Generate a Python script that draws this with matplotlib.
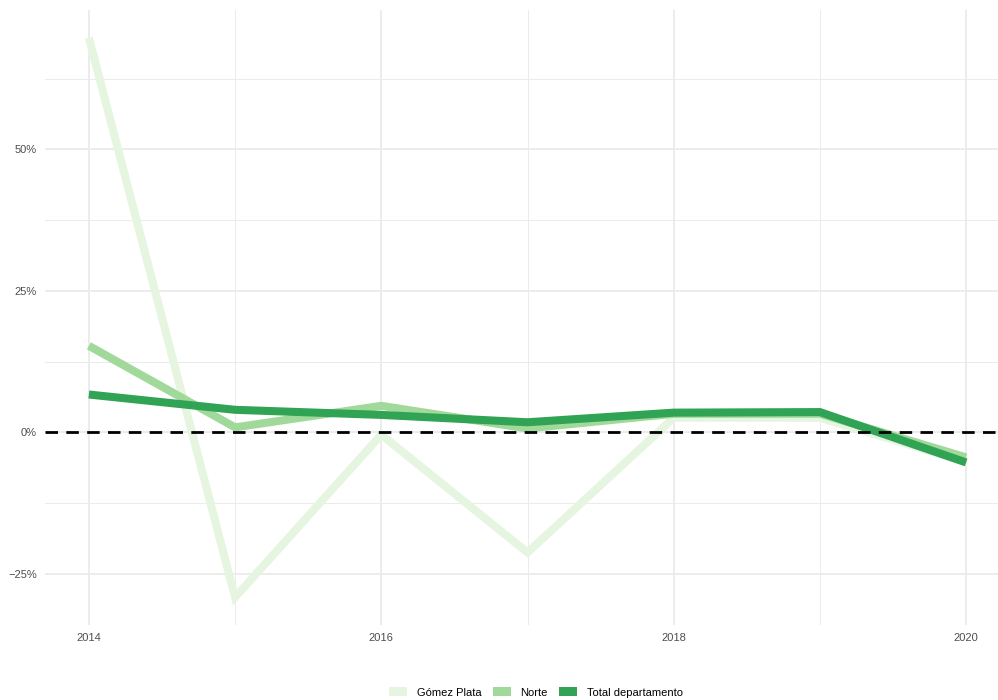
import matplotlib
matplotlib.use("Agg")
import matplotlib.pyplot as plt
from matplotlib.patches import Patch
from matplotlib.ticker import FixedLocator, FuncFormatter

years = [2014, 2015, 2016, 2017, 2018, 2019, 2020]
gomez_plata = [69.7, -29.1, -0.4, -21.2, 2.6, 2.6, -5.2]
norte = [15.3, 0.9, 4.7, 0.7, 3.3, 3.3, -4.4]
total_depto = [6.7, 4.0, 3.1, 1.8, 3.5, 3.6, -5.3]

series_names = ["Gómez Plata", "Norte", "Total departamento"]
series_colors = ["#e5f5e0", "#a1d99b", "#31a354"]

x_major = [2014, 2016, 2018, 2020]
x_minor = [2015, 2017, 2019]
y_major = [-25, 0, 25, 50]
y_minor = [-12.5, 12.5, 37.5, 62.5]

plt.rcParams['font.family'] = ['Liberation Sans', 'DejaVu Sans']

fig = plt.figure(figsize=(9.98, 7.0), dpi=100)
ax = fig.add_axes([45/998, 75/700, (1010-45)/998, 615/700])

for name, vals, col in zip(series_names, [gomez_plata, norte, total_depto], series_colors):
    ax.plot(years, vals, color=col, lw=5.8, solid_capstyle='butt', solid_joinstyle='miter', zorder=3)

ax.axhline(0, color='black', lw=2.0, dashes=(4.5, 3.0), zorder=4)

ax.set_xlim(2013.7, 2020.3)
ax.set_ylim(-34.0, 74.6)

ax.xaxis.set_major_locator(FixedLocator(x_major))
ax.xaxis.set_minor_locator(FixedLocator(x_minor))
ax.yaxis.set_major_locator(FixedLocator(y_major))
ax.yaxis.set_minor_locator(FixedLocator(y_minor))
ax.yaxis.set_major_formatter(FuncFormatter(lambda v, p: f"{int(v)}%".replace('-', '\u2212')))

ax.grid(which='major', color='#ebebeb', lw=1.3, zorder=0)
ax.grid(which='minor', color='#ebebeb', lw=0.7, zorder=0)
ax.set_axisbelow(True)

for s in ax.spines.values():
    s.set_visible(False)
ax.tick_params(which='both', length=0)
ax.tick_params(axis='both', labelsize=8, labelcolor='#4d4d4d', pad=6)

handles = [Patch(facecolor=c, edgecolor='none', label=n) for n, c in zip(series_names, series_colors)]
fig.legend(handles=handles, loc='lower center', bbox_to_anchor=(536/998, -0.011), ncol=3, frameon=False,
           fontsize=8, handlelength=1.6, handleheight=0.9, handletextpad=0.9, columnspacing=1.0)

fig.savefig("out.png", dpi=100)
